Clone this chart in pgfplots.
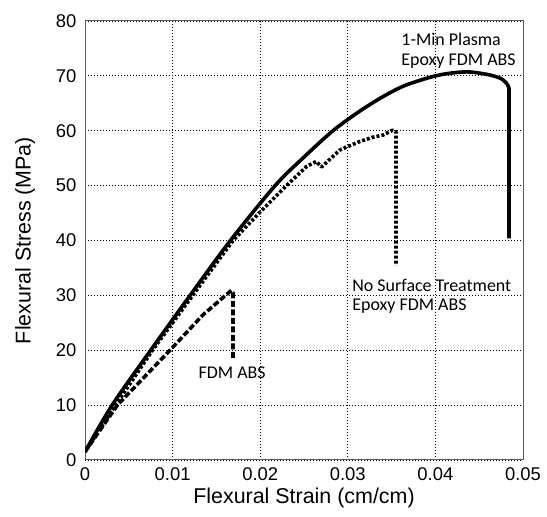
\documentclass[border=0pt]{standalone}
\usepackage{fontspec}
\setmainfont{Liberation Sans}
\newfontfamily\calibri{Carlito}
\usepackage{pgfplots}
\pgfplotsset{compat=1.18}

\begin{document}
\begin{tikzpicture}
\begin{axis}[
  name=ax,
  scale only axis,
  width=438bp, height=439bp,
  xmin=0, xmax=0.05, ymin=0, ymax=80,
  scaled ticks=false,
  xtick={0,0.01,0.02,0.03,0.04,0.05},
  xticklabels={0,0.01,0.02,0.03,0.04,0.05},
  ytick={0,10,...,80},
  /pgf/number format/assume math mode=true,
  tick label style={font=\fontsize{18.5}{20}\selectfont},
  xticklabel style={yshift=-4bp},
  yticklabel style={xshift=-5bp},
  major tick length=0pt,
  axis line style={black!65, line width=1bp},
  grid=major,
  grid style={black, line width=0.8bp, dash pattern=on 1.4bp off 1.6bp},
  xlabel={Flexural Strain (cm/cm)},
  ylabel={Flexural Stress (MPa)},
  every axis x label/.style={at={([yshift=-38bp]rel axis cs:0.5,0)}, anchor=center, font=\fontsize{21.5}{24}\selectfont},
  every axis y label/.style={at={([xshift=-60bp]rel axis cs:0,0.5)}, anchor=center, rotate=90, font=\fontsize{21.5}{24}\selectfont},
  line join=round,
]
% 1-min plasma epoxy FDM ABS
\addplot[black, line width=3.6bp, smooth, tension=0.5] coordinates {
  (0,1.5) (0.0031,10) (0.0075,20) (0.0120,30) (0.0166,40) (0.0217,50)
  (0.0250,55.2) (0.0283,60) (0.0313,63.5) (0.0340,66.2) (0.0366,68.3)
  (0.0400,70.0) (0.0423,70.6) (0.0440,70.7) (0.0461,70.2) (0.0475,69.5)
  (0.0482,68.5)
};
\addplot[black, line width=3.6bp] coordinates {
  (0.0482,68.5) (0.0484,67.8) (0.0484,40.4)
};
% no surface treatment epoxy FDM ABS
\addplot[black, line width=3.6bp, dash pattern=on 3bp off 2bp] coordinates {
  (0,1.5) (0.0035,10) (0.0077,20) (0.0123,30) (0.0169,40) (0.0200,45.2)
  (0.0230,50) (0.0253,53.5) (0.0264,54.4) (0.0270,53.4) (0.0291,56.5)
  (0.0313,58.0) (0.0328,58.8) (0.0340,59.2) (0.0351,60.1) (0.0355,59.8)
  (0.0355,35.4)
};
% FDM ABS
\addplot[black, line width=3.6bp, dash pattern=on 6bp off 2.5bp] coordinates {
  (0,1.5) (0.0037,10) (0.0097,20) (0.0135,26.5) (0.0167,30.9) (0.0169,30.5) (0.0169,18.6)
};
\node[anchor=west, inner sep=0pt, font=\calibri\fontsize{18}{20}\selectfont] at (axis cs:0.0361,76.6) {1-Min Plasma};
\node[anchor=west, inner sep=0pt, font=\calibri\fontsize{18}{20}\selectfont] at (axis cs:0.0361,72.6) {Epoxy FDM ABS};
\node[anchor=west, inner sep=0pt, font=\calibri\fontsize{18}{20}\selectfont] at (axis cs:0.0305,31.9) {No Surface Treatment};
\node[anchor=west, inner sep=0pt, font=\calibri\fontsize{18}{20}\selectfont] at (axis cs:0.0305,28.1) {Epoxy FDM ABS};
\node[anchor=west, inner sep=0pt, font=\calibri\fontsize{18}{20}\selectfont] at (axis cs:0.01295,15.9) {FDM ABS};
\end{axis}
\pgfresetboundingbox
\path ([xshift=-85bp,yshift=-57bp]ax.south west) rectangle ([xshift=24bp,yshift=21bp]ax.north east);
\end{tikzpicture}
\end{document}
